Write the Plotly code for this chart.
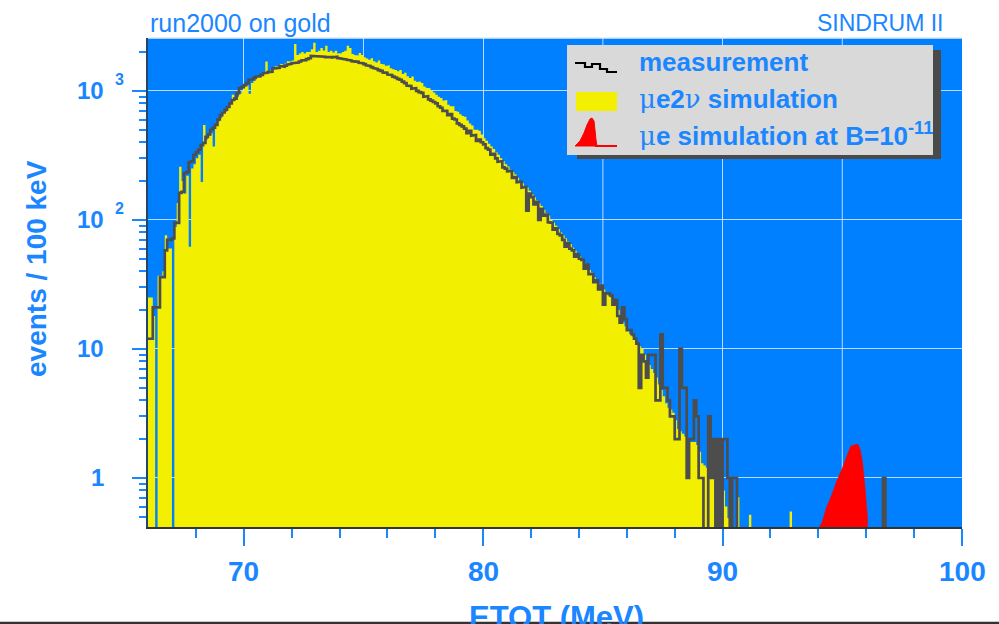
import numpy as np
import plotly.graph_objects as go

# ---- data: events per 100 keV bin ----
BIN = 0.1

# measured spectrum, bins starting at 66.0 MeV
meas_start = 66.0
measurement = [
    12, 12, 21, 21, 21, 36, 36, 58, 70, 70,                       # 66
    72, 95, 95, 162, 165, 231, 235, 280, 285, 320,                # 67
    335, 350, 380, 395, 440, 460, 500, 520, 545, 600,             # 68
    650, 680, 715, 750, 800, 850, 870, 960, 1050, 1070,           # 69
    1110, 1150, 1220, 1230, 1260, 1290, 1300, 1330, 1370, 1380,   # 70
    1400, 1410, 1490, 1500, 1510, 1560, 1540, 1570, 1600, 1620,   # 71
    1640, 1650, 1660, 1690, 1720, 1730, 1760, 1790, 1865, 1850,   # 72
    1840, 1850, 1860, 1840, 1830, 1850, 1830, 1820, 1840, 1800,   # 73
    1780, 1770, 1750, 1740, 1720, 1700, 1690, 1680, 1650, 1640,   # 74
    1610, 1580, 1560, 1530, 1500, 1480, 1450, 1430, 1390, 1380,   # 75
    1340, 1330, 1290, 1270, 1240, 1220, 1180, 1150, 1100, 1090,   # 76
    1040, 1050, 1000, 980, 965, 900, 910, 860, 840, 820,          # 77
    800, 760, 740, 700, 700, 650, 660, 610, 600, 560,             # 78
    545, 530, 510, 470, 490, 450, 455, 410, 420, 400,             # 79
    385, 360, 350, 320, 325, 300, 282, 285, 255, 250,             # 80
    238, 240, 212, 215, 196, 198, 178, 180, 118, 160,             # 81
    150, 132, 138, 100, 122, 108, 110, 96, 95, 84,                # 82
    86, 78, 76, 70, 62, 66, 60, 58, 52, 54,                       # 83
    50, 49, 42, 45, 38, 38, 33, 34, 29, 31,                       # 84
    22, 27, 27, 26, 22, 24, 18, 16, 21, 17,                       # 85
    14, 14, 13, 12, 11, 5, 9, 8, 6, 9,                            # 86
    9, 9, 4, 4, 13, 5, 5, 4, 3, 3,                                # 87
    2, 2, 10, 5, 5, 1, 2, 2, 4, 3,                                # 88
    1, 1, 0, 0, 3, 1, 2, 0, 2, 0,                                 # 89
    2, 2, 1, 0, 1, 1, 0, 0, 0, 0,                                 # 90
    0, 0, 0, 0, 0, 0, 0, 0, 0, 0,                                 # 91
    0, 0, 0, 0, 0, 0, 0, 0, 0, 0,                                 # 92
    0, 0, 0, 0, 0, 0, 0, 0, 0, 0,                                 # 93
    0, 0, 0, 0, 0, 0, 0, 0, 0, 0,                                 # 94
    0, 0, 0, 0, 0, 0, 0, 0, 0, 0,                                 # 95
    0, 0, 0, 0, 0, 0, 0, 1, 0, 0,                                 # 96
]

# mu e 2nu (decay in orbit) simulation, bins starting at 66.0 MeV
sim_start = 66.0
sim_mue2nu = [
    25, 25, 18, 0, 37, 37, 40, 76, 60, 60,                        # 66
    0, 88, 135, 258, 200, 160, 220, 62, 250, 270,                 # 67
    300, 320, 197, 545, 420, 450, 470, 370, 540, 580,             # 68
    620, 700, 690, 760, 820, 935, 880, 900, 950, 1000,            # 69
    1080, 1100, 950, 1150, 1200, 1280, 1290, 1320, 1400, 1690,    # 70
    1420, 1450, 1500, 1560, 1540, 1620, 1600, 1630, 1700, 1690,   # 71
    1720, 2313, 1900, 1950, 2000, 1950, 2000, 2000, 2100, 2360,   # 72
    2000, 2050, 2150, 2060, 2240, 2000, 2050, 1980, 2050, 1950,   # 73
    1960, 2000, 2050, 2240, 2150, 1930, 1900, 1880, 1970, 1900,   # 74
    1820, 1780, 1740, 1790, 1700, 1660, 1720, 1620, 1600, 1560,   # 75
    1580, 1500, 1470, 1450, 1420, 1450, 1350, 1380, 1300, 1260,   # 76
    1290, 1200, 1170, 1180, 1150, 1080, 1060, 1050, 1000, 970,    # 77
    935, 900, 880, 840, 850, 780, 760, 760, 700, 690,             # 78
    660, 640, 630, 590, 560, 540, 500, 500, 490, 460,             # 79
    430, 410, 390, 370, 355, 335, 320, 300, 285, 270,             # 80
    260, 245, 235, 225, 212, 200, 192, 182, 178, 168,             # 81
    158, 150, 142, 134, 128, 120, 113, 108, 100, 95,              # 82
    90, 85, 80, 76, 72, 68, 65, 61, 58, 55,                       # 83
    52, 49, 46, 44, 41, 39, 36, 34, 32, 30,                       # 84
    29, 27, 26, 25, 24, 22, 20, 18, 16, 15,                       # 85
    14, 13, 12.5, 12, 11, 10.5, 10, 9, 8, 7.5,                    # 86
    7, 6.5, 6, 5.3, 4.8, 4.3, 3.8, 3.5, 3.4, 3.2,                 # 87
    2.8, 2.4, 2.3, 2.2, 2.1, 2.0, 1.9, 1.9, 1.9, 1.8,             # 88
    1.6, 1.3, 1.25, 1.2, 1.15, 1.0, 1.0, 0.95, 0.9, 0.85,         # 89
    0.8, 0.6, 0.49, 0, 0, 0, 0.71, 0, 0, 0,                       # 90
    0, 0.52, 0, 0, 0, 0, 0, 0, 0, 0,                              # 91
    0, 0, 0, 0, 0, 0, 0, 0, 0.55, 0,                              # 92
]

# mu -> e conversion signal at B = 1e-11, bins starting at 94.0 MeV
sig_start = 94.0
sim_mue = [
    0.42, 0.45, 0.52, 0.60, 0.66, 0.73, 0.82, 0.93, 1.02, 1.12,   # 94
    1.25, 1.42, 1.60, 1.76, 1.79, 1.80, 1.83, 1.65, 1.30, 0.85,   # 95
    0.50,                                                         # 96
]

x_major = [70, 80, 90, 100]
x_major_text = ["70", "80", "90", "100"]
x_minor = [68, 72, 74, 76, 78, 82, 84, 86, 88, 92, 94, 96, 98]
x_grid_extra = [75, 85, 95]
y_major = [1, 10, 100, 1000]
y_major_base = ["1", "10", "10", "10"]
y_major_exp = ["", "", "2", "3"]
y_minor = [0.5, 0.6, 0.7, 0.8, 0.9,
           2, 3, 4, 5, 6, 7, 8, 9,
           20, 30, 40, 50, 60, 70, 80, 90,
           200, 300, 400, 500, 600, 700, 800, 900, 2000]

# ---- styling ----
W, H = 999, 624
L, R, T, B = 148, 962, 38, 527          # plot area in page pixels
X_RANGE = [66, 100]
Y_RANGE = [np.log10(0.417), np.log10(2570)]
FLOOR = 1e-3                            # empty bins drop below the axis

BG_BLUE = "#0080ff"
TXT_BLUE = "#1a86ff"
YELLOW = "#f2f000"
DARK = "#4d4d4d"
RED = "#ff0000"
FONT = "Liberation Sans, Arial, Helvetica, sans-serif"
GRID = "rgba(255,255,255,0.72)"


def px(x):
    return (x - L) / (R - L)


def py(y):
    return (B - y) / (B - T)


def step_xy(start, vals):
    v = np.asarray(vals, dtype=float)
    edges = start + BIN * np.arange(len(v) + 1)
    xs = np.repeat(edges, 2)[1:-1]
    ys = np.repeat(np.where(v > 0, v, FLOOR), 2)
    return xs, ys


fig = go.Figure()

# simulated decay-in-orbit spectrum (filled histogram)
sx, sy = step_xy(sim_start, sim_mue2nu)
fig.add_trace(go.Scatter(
    x=np.concatenate([[sx[0]], sx, [sx[-1]]]),
    y=np.concatenate([[FLOOR], sy, [FLOOR]]),
    mode="lines", fill="toself", fillcolor=YELLOW,
    line=dict(width=0, color=YELLOW), hoverinfo="skip", showlegend=False))

# measured spectrum (step line)
mx, my = step_xy(meas_start, measurement)
fig.add_trace(go.Scatter(
    x=mx, y=my, mode="lines",
    line=dict(color=DARK, width=2.7), hoverinfo="skip", showlegend=False))

# mu-e conversion signal
sig = np.asarray(sim_mue, dtype=float)
centers = sig_start + BIN * (np.arange(len(sig)) + 0.5)
fig.add_trace(go.Scatter(
    x=np.concatenate([[sig_start - 0.05], centers, [centers[-1] + 0.05]]),
    y=np.concatenate([[FLOOR], sig, [FLOOR]]),
    mode="lines", fill="toself", fillcolor=RED,
    line=dict(width=0.5, color=RED), hoverinfo="skip", showlegend=False))

shapes = []
# extra vertical grid lines every 5 MeV
for gx in x_grid_extra:
    shapes.append(dict(type="line", xref="x", yref="paper", x0=gx, x1=gx,
                       y0=0, y1=1, line=dict(color=GRID, width=1), layer="below"))
# top frame edge
shapes.append(dict(type="line", xref="paper", yref="paper", x0=0, x1=1,
                   y0=1, y1=1, line=dict(color="rgba(225,235,245,1)", width=1.5)))

# legend box with drop shadow
shapes.append(dict(type="rect", xref="paper", yref="paper",
                   x0=px(577), x1=px(941), y0=py(159), y1=py(50),
                   fillcolor="#4a4a4a", line=dict(width=0)))
shapes.append(dict(type="rect", xref="paper", yref="paper",
                   x0=px(567), x1=px(933), y0=py(155), y1=py(45),
                   fillcolor="#d9d9d9", line=dict(width=0)))
# legend icon: measurement step line
step_icon = [(575, 63), (585, 63), (585, 67), (592, 67), (592, 64), (600, 64),
             (600, 69), (607, 69), (607, 72), (617, 72)]
shapes.append(dict(type="path", xref="paper", yref="paper",
                   path="M " + " L ".join(f"{px(a):.5f},{py(b):.5f}" for a, b in step_icon),
                   line=dict(color="black", width=2.2)))
# legend icon: yellow block
shapes.append(dict(type="rect", xref="paper", yref="paper",
                   x0=px(576), x1=px(617), y0=py(111), y1=py(92),
                   fillcolor=YELLOW, line=dict(width=0)))
# legend icon: red peak
peak_icon = [(575, 146), (580, 141), (584, 133), (587, 125), (590, 119), (592, 118),
             (594, 121), (595, 130), (596, 140), (597, 146)]
shapes.append(dict(type="path", xref="paper", yref="paper",
                   path="M " + " L ".join(f"{px(a):.5f},{py(b):.5f}" for a, b in peak_icon) + " Z",
                   fillcolor=RED, line=dict(color=RED, width=1)))
shapes.append(dict(type="line", xref="paper", yref="paper",
                   x0=px(595), x1=px(617), y0=py(146), y1=py(146),
                   line=dict(color=RED, width=2)))
# page bottom rule
shapes.append(dict(type="line", xref="paper", yref="paper",
                   x0=px(0), x1=px(W), y0=py(623), y1=py(623),
                   line=dict(color="#333333", width=2.5)))

annotations = []


def note(text, x, y, size, xanchor="left", yanchor="middle", xref="paper",
         yref="paper", angle=0, yshift=0):
    annotations.append(dict(text=text, x=x, y=y, xref=xref, yref=yref,
                            xanchor=xanchor, yanchor=yanchor, showarrow=False,
                            textangle=angle, yshift=yshift,
                            font=dict(family=FONT, size=size, color=TXT_BLUE)))


mu = '<span style="font-weight:normal;font-family:\'DejaVu Serif\'">μ</span>'
nu = '<span style="font-weight:normal;font-family:\'DejaVu Serif\'">ν</span>'

# headers
note("run2000 on gold", px(148), py(23), 25)
note("SINDRUM II", px(946), py(23), 23, xanchor="right")

# legend entries
note("<b>measurement</b>", px(637), py(62), 26)
note(f"<b>{mu}e2{nu} simulation</b>", px(637), py(99), 26)
note(f"<b>{mu}e simulation at B=10<sup>-11</sup></b>", px(637), py(134), 26)

# y tick labels
for v, base, ex in zip(y_major, y_major_base, y_major_exp):
    note(f"<b>{base}</b>", px(106), np.log10(v), 24, xanchor="right", yref="y")
    if ex:
        note(f"<b>{ex}</b>", px(113), np.log10(v), 16, xanchor="left", yref="y", yshift=11)

# x tick labels
for v, t in zip(x_major, x_major_text):
    note(f"<b>{t}</b>", v, py(571), 28, xanchor="center", xref="x")

# axis titles
note("<b>events / 100 keV</b>", px(36), py(269), 28, xanchor="center", angle=-90)
note("<b>ETOT (MeV)</b>", px(556), py(617), 31, xanchor="center")

fig.update_layout(
    width=W, height=H,
    margin=dict(l=L, r=W - R, t=T, b=H - B, pad=0),
    paper_bgcolor="white", plot_bgcolor=BG_BLUE,
    showlegend=False,
    shapes=shapes, annotations=annotations,
    font=dict(family=FONT, color=TXT_BLUE),
)
fig.update_xaxes(
    range=X_RANGE, tickmode="array", tickvals=x_major, showticklabels=False,
    ticks="outside", ticklen=17, tickwidth=1.5, tickcolor=TXT_BLUE,
    minor=dict(tickvals=x_minor, ticks="outside", ticklen=9, tickwidth=1.5,
               tickcolor=TXT_BLUE, showgrid=False),
    showgrid=True, gridcolor=GRID, gridwidth=1,
    showline=True, linecolor="#333333", linewidth=2,
    zeroline=False, fixedrange=True,
)
fig.update_yaxes(
    type="log", range=Y_RANGE, tickmode="array", tickvals=y_major,
    showticklabels=False,
    ticks="outside", ticklen=14, tickwidth=1.5, tickcolor=TXT_BLUE,
    minor=dict(tickvals=y_minor, ticks="outside", ticklen=7, tickwidth=1.5,
               tickcolor=TXT_BLUE, showgrid=False),
    showgrid=True, gridcolor=GRID, gridwidth=1,
    showline=True, linecolor="#24466b", linewidth=2,
    zeroline=False, fixedrange=True,
)

fig.write_html("out.html")
